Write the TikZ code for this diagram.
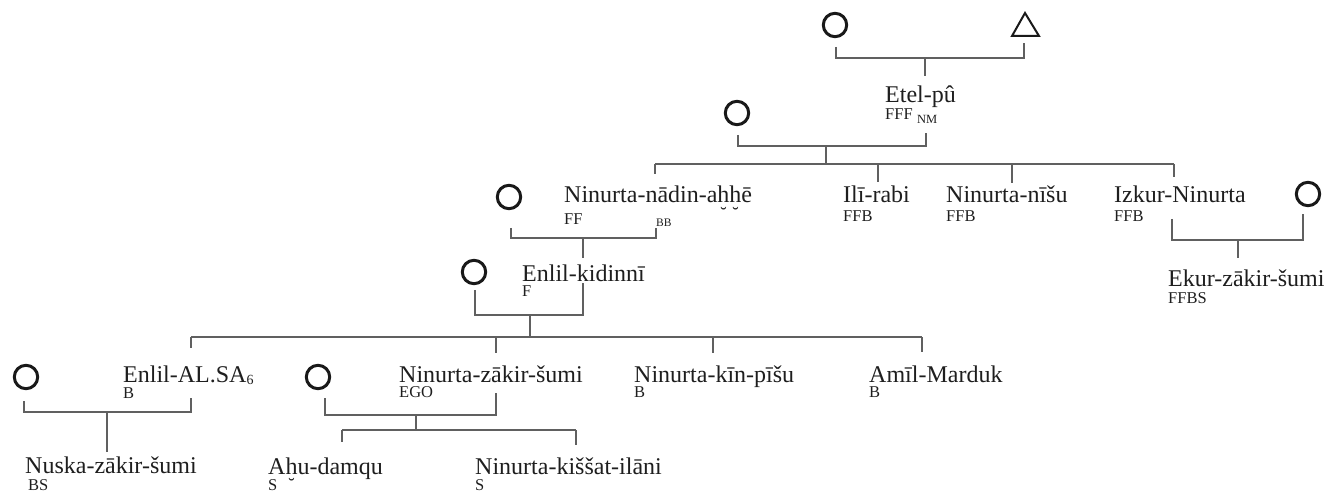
\documentclass[tikz,border=0pt]{standalone}
\usepackage{fontspec}
\setmainfont{Liberation Serif}
\definecolor{ink}{HTML}{1E1E1E}
\definecolor{rulegray}{HTML}{606060}
% h with a breve below
\newcommand\hbrv{\ooalign{h\cr\hidewidth\raisebox{-0.74em}{\scalebox{0.8}{\char"02D8}}\hidewidth\cr}}
\tikzset{
  person/.style={anchor=base west, inner sep=0pt, font=\fontsize{24}{24}\selectfont, text=ink},
  kin/.style={anchor=base west, inner sep=0pt, font=\fontsize{16.5}{16.5}\selectfont, text=ink},
  kinsmall/.style={anchor=base west, inner sep=0pt, font=\fontsize{11.5}{11.5}\selectfont, text=ink},
  female/.style={circle, draw=black!90, line width=3pt, minimum size=23.4pt, inner sep=0pt},
  tie/.style={draw=rulegray, line width=1.3pt}
}
\begin{document}
\begin{tikzpicture}[x=1pt,y=-1pt]
\useasboundingbox (0,0) rectangle (1338,494);

% ---- spouses / parents (symbols)
\node[female] (w0) at (835,25) {};
\coordinate (m0) at (1025,27);
\draw[draw=black!90, line width=2pt, line join=miter] (1025,13) -- (1039,36) -- (1012,36) -- cycle;
\node[female] (w1) at (737,113) {};
\node[female] (w2) at (509,197) {};
\node[female] (w3) at (474,272) {};
\node[female] (w4) at (26,377) {};
\node[female] (w5) at (318,377) {};
\node[female] (w6) at (1308,194) {};

% ---- names
\node[person] (etel) at (885,103) {Etel-pû};
\node[kin] (etelk) at (885,120) {FFF};
\node[kinsmall, font=\fontsize{12.5}{12.5}\selectfont] (eteln) at (917,124) {NM};

\node[person] (nadin) at (564,203) {Ninurta-nādin-a\hbrv\hbrv ē};
\node[kin] (nadink) at (564,225) {FF};
\node[kinsmall] (nadinb) at (656,227) {BB};

\node[person] (ili) at (843,203) {Ilī-rabi};
\node[kin] (ilik) at (843,222) {FFB};
\node[person] (nisu) at (946,203) {Ninurta-nīšu};
\node[kin] (nisuk) at (946,222) {FFB};
\node[person] (izkur) at (1114,203) {Izkur-Ninurta};
\node[kin] (izkurk) at (1114,222) {FFB};

\node[person] (ekur) at (1168,287) {Ekur-zākir-šumi};
\node[kin] (ekurk) at (1168,303) {FFBS};

\node[person] (kid) at (522,281) {Enlil-kidinnī};
\node[kin] (kidk) at (522,296) {F};

\node[person] (alsa) at (123,382) {Enlil-AL.SA\raisebox{-2.5pt}{\fontsize{14}{14}\selectfont 6}};
\node[kin] (alsak) at (123,398) {B};
\node[person] (ego) at (399,382) {Ninurta-zākir-šumi};
\node[kin] (egok) at (399,397) {EGO};
\node[person] (kin) at (634,382) {Ninurta-kīn-pīšu};
\node[kin] (kink) at (634,397) {B};
\node[person] (amil) at (869,382) {Amīl-Marduk};
\node[kin] (amilk) at (869,397) {B};

\node[person] (nuska) at (25,473) {Nuska-zākir-šumi};
\node[kin] (nuskak) at (28,490) {BS};
\node[person] (ahu) at (268,474) {A\hbrv u-damqu};
\node[kin] (ahuk) at (268,490) {S};
\node[person] (kis) at (475,474) {Ninurta-kiššat-ilāni};
\node[kin] (kisk) at (475,490) {S};

% ---- connector points
\coordinate (a1) at (836,47);   \coordinate (a2) at (1024,43);  \coordinate (a3) at (925,58);
\coordinate (b1) at (738,135);  \coordinate (b2) at (926,133);  \coordinate (b3) at (826,146);
\coordinate (g1) at (655,164);  \coordinate (g2) at (1174,164);
\coordinate (c1) at (511,228);  \coordinate (c2) at (656,228);  \coordinate (c3) at (583,238);
\coordinate (d1) at (475,290);  \coordinate (d2) at (583,283);  \coordinate (d3) at (530,315);
\coordinate (h1) at (191,337);  \coordinate (h2) at (922,337);
\coordinate (e1) at (24,401);   \coordinate (e2) at (191,398);  \coordinate (e3) at (107,412);
\coordinate (f1) at (325,398);  \coordinate (f2) at (496,393);  \coordinate (f3) at (416,415);
\coordinate (k1) at (342,430);  \coordinate (k2) at (576,430);
\coordinate (i1) at (1172,219); \coordinate (i2) at (1303,214); \coordinate (i3) at (1238,240);

% ---- marriages and descent
% generation 0
\draw[tie] (a1) |- (a2 |- a3) -- (a2);
\draw[tie] (a3) -- (925,76);
% Etel-pu and wife
\draw[tie] (b1) |- (b2 |- b3) -- (b2);
\draw[tie] (b3) -- (b3 |- g1);
\draw[tie] (g1) -- (g2);
\draw[tie] (g1) -- (655,174);
\draw[tie] (878,164) -- (878,182);
\draw[tie] (1012,164) -- (1012,183);
\draw[tie] (g2) -- (1174,177);
% Ninurta-nadin-ahhe and wife
\draw[tie] (c1) |- (c2 |- c3) -- (c2);
\draw[tie] (c3) -- (583,258);
% Izkur-Ninurta and wife
\draw[tie] (i1) |- (i2 |- i3) -- (i2);
\draw[tie] (i3) -- (1238,258);
% Enlil-kidinni and wife
\draw[tie] (d1) |- (d2 |- d3) -- (d2);
\draw[tie] (d3) -- (d3 |- h1);
\draw[tie] (h1) -- (h2);
\draw[tie] (h1) -- (191,348);
\draw[tie] (496,337) -- (496,353);
\draw[tie] (713,337) -- (713,353);
\draw[tie] (h2) -- (922,352);
% Enlil-AL.SA6 and wife
\draw[tie] (e1) |- (e2 |- e3) -- (e2);
\draw[tie] (e3) -- (107,452);
% Ninurta-zakir-sumi and wife
\draw[tie] (f1) |- (f2 |- f3) -- (f2);
\draw[tie] (f3) -- (f3 |- k1);
\draw[tie] (k1) -- (k2);
\draw[tie] (k1) -- (342,442);
\draw[tie] (k2) -- (576,445);
\end{tikzpicture}
\end{document}
